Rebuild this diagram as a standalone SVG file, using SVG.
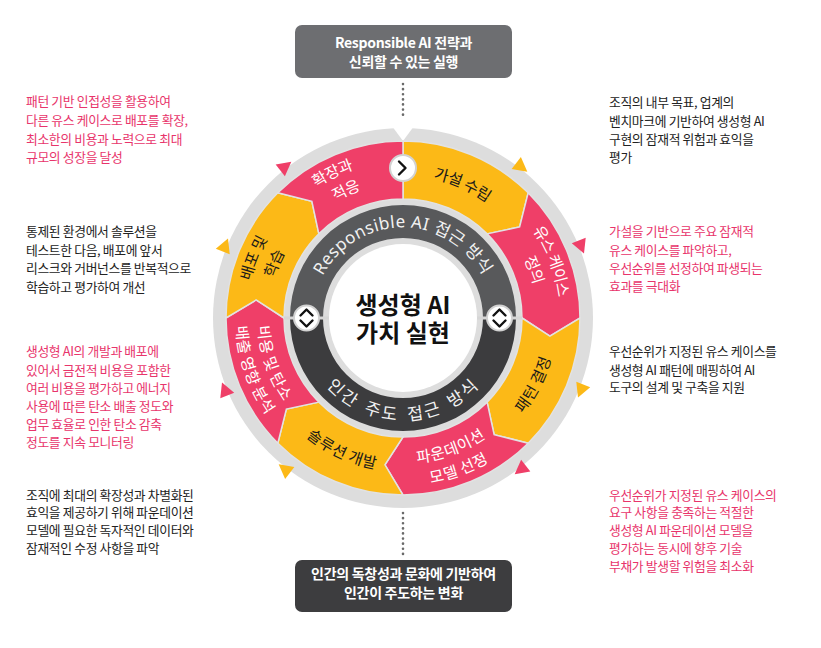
<svg xmlns="http://www.w3.org/2000/svg" width="821" height="648" viewBox="0 0 821 648">
<style>
.side{font-family:"Noto Sans CJK KR","Noto Sans",sans-serif;font-size:12.8px;letter-spacing:-0.35px}
.pk{fill:#e8346b}
.bk{fill:#222}
.box{font-family:"Noto Sans CJK KR","Noto Sans",sans-serif;font-size:14px;font-weight:bold;fill:#fff;text-anchor:middle;letter-spacing:-0.3px}
.seg{font-family:"Noto Sans CJK KR","Noto Sans",sans-serif;font-size:15.5px;text-anchor:middle}
.ring{font-family:"Noto Sans","Noto Sans CJK KR",sans-serif;font-size:17px;fill:#f2f2f2;text-anchor:middle}
.yl{fill:#fcb917;stroke:#e2e2e2;stroke-width:1.5}
.pn{fill:#ef3f68;stroke:#e2e2e2;stroke-width:1.5}
.dots{stroke:#6a6a6a;stroke-width:2.6;stroke-linecap:round;stroke-dasharray:0.1 5;fill:none}
.btn{fill:#fff;stroke:#d2d2d2;stroke-width:2}
.chev{fill:none;stroke:#111;stroke-width:2.4;stroke-linecap:round;stroke-linejoin:round}
</style>
<defs>
<path id="tri" d="M -6,-7.5 L 8,0 L -6,7.5 Z"/>
<path id="cw148" d="M403,466 A148,148 0 1 1 403,170 A148,148 0 1 1 403,466"/>
<path id="cw162" d="M403,480 A162,162 0 1 1 403,156 A162,162 0 1 1 403,480"/>
<path id="cw140" d="M403,458 A140,140 0 1 1 403,178 A140,140 0 1 1 403,458"/>
<path id="cw96" d="M403,414.5 A96.5,96.5 0 1 1 403,221.5 A96.5,96.5 0 1 1 403,414.5"/>
<path id="ccw148" d="M403,170 A148,148 0 1 0 403,466 A148,148 0 1 0 403,170"/>
<path id="ccw162" d="M403,156 A162,162 0 1 0 403,480 A162,162 0 1 0 403,156"/>
<path id="ccw140" d="M403,178 A140,140 0 1 0 403,458 A140,140 0 1 0 403,178"/>
<path id="ccw96" d="M403,221.5 A96.5,96.5 0 1 0 403,414.5 A96.5,96.5 0 1 0 403,221.5"/>
</defs>

<g id="connectors">
<line class="dots" x1="403" y1="84" x2="403" y2="127"/>
<line class="dots" x1="403" y1="513" x2="403" y2="556"/>
</g>

<g id="cycle-background">
<circle cx="403" cy="318" r="190" fill="#dddddd"/>
<polygon points="386,118 403,141 420,118" fill="#fff"/>
</g>

<g id="arrows">
<use href="#tri" fill="#fcb917" transform="translate(521,166.7) rotate(38)"/>
<use href="#tri" fill="#ef3f68" transform="translate(581,246) rotate(68)"/>
<use href="#tri" fill="#fcb917" transform="translate(581,390) rotate(112)"/>
<use href="#tri" fill="#ef3f68" transform="translate(521,469.3) rotate(142)"/>
<use href="#tri" fill="#fcb917" transform="translate(285,469.3) rotate(218)"/>
<use href="#tri" fill="#ef3f68" transform="translate(225,390) rotate(248)"/>
<use href="#tri" fill="#fcb917" transform="translate(225,246) rotate(292)"/>
<use href="#tri" fill="#ef3f68" transform="translate(285,166.7) rotate(322)"/>
</g>

<g id="seg-hypothesis">
<path class="yl" d="M403,141 A177,177 0 0 1 528.16,192.84 L519.62,226.88 L487.14,233.86 A119,119 0 0 0 403,199 Z"/>
<text class="seg" fill="#1a1a1a" dy="0.35em"><textPath href="#cw148" startOffset="56.7%">가설 수립</textPath></text>
</g>
<g id="seg-usecase">
<path class="pn" d="M528.16,192.84 A177,177 0 0 1 580,318 L549.89,336.04 L522,318 A119,119 0 0 0 487.14,233.86 L519.62,226.88 Z"/>
<text class="seg" fill="#fff" dy="0.35em"><textPath href="#cw162" startOffset="69.2%">유스 케이스</textPath></text>
<text class="seg" fill="#fff" dy="0.35em"><textPath href="#cw140" startOffset="69.4%">정의</textPath></text>
</g>
<g id="seg-pattern">
<path class="yl" d="M580,318 A177,177 0 0 1 528.16,443.16 L494.12,434.62 L487.14,402.14 A119,119 0 0 0 522,318 L549.89,336.04 Z"/>
<text class="seg" fill="#1a1a1a" dy="0.35em"><textPath href="#ccw148" startOffset="67.5%">패턴 결정</textPath></text>
</g>
<g id="seg-foundation">
<path class="pn" d="M528.16,443.16 A177,177 0 0 1 403,495 L384.96,464.89 L403,437 A119,119 0 0 0 487.14,402.14 L494.12,434.62 Z"/>
<text class="seg" fill="#fff" dy="0.35em"><textPath href="#ccw140" startOffset="55.6%">파운데이션</textPath></text>
<text class="seg" fill="#fff" dy="0.35em"><textPath href="#ccw162" startOffset="55.6%">모델 선정</textPath></text>
</g>
<g id="seg-solution">
<path class="yl" d="M403,495 A177,177 0 0 1 277.84,443.16 L286.38,409.12 L318.86,402.14 A119,119 0 0 0 403,437 L384.96,464.89 Z"/>
<text class="seg" fill="#1a1a1a" dy="0.35em"><textPath href="#ccw148" startOffset="43.1%">솔루션 개발</textPath></text>
</g>
<g id="seg-cost">
<path class="pn" d="M277.84,443.16 A177,177 0 0 1 226,318 L256.11,299.96 L284,318 A119,119 0 0 0 318.86,402.14 L286.38,409.12 Z"/>
<text class="seg" fill="#fff" dy="0.35em"><textPath href="#ccw140" startOffset="30.3%">비용 및 탄소</textPath></text>
<text class="seg" fill="#fff" dy="0.35em"><textPath href="#ccw162" startOffset="30.3%">배출 영향 분석</textPath></text>
</g>
<g id="seg-deploy">
<path class="yl" d="M226,318 A177,177 0 0 1 277.84,192.84 L311.88,201.38 L318.86,233.86 A119,119 0 0 0 284,318 L256.11,299.96 Z"/>
<text class="seg" fill="#1a1a1a" dy="0.35em"><textPath href="#cw162" startOffset="31.1%">배포 및</textPath></text>
<text class="seg" fill="#1a1a1a" dy="0.35em"><textPath href="#cw140" startOffset="31.4%">학습</textPath></text>
</g>
<g id="seg-scale">
<path class="pn" d="M277.84,192.84 A177,177 0 0 1 403,141 L403,199 A119,119 0 0 0 318.86,233.86 L311.88,201.38 Z"/>
<text class="seg" fill="#fff" dy="0.35em"><textPath href="#cw162" startOffset="42.8%">확장과</textPath></text>
<text class="seg" fill="#fff" dy="0.35em"><textPath href="#cw140" startOffset="43.3%">적응</textPath></text>
</g>

<g id="inner-rings">
<path d="M290,318 A113,113 0 0 1 516,318 L483,318 A80,80 0 0 0 323,318 Z" fill="#58595b"/>
<path d="M516,318 A113,113 0 0 1 290,318 L323,318 A80,80 0 0 0 483,318 Z" fill="#3c3c3e"/>
<line x1="284" y1="318" x2="329" y2="318" stroke="#d6d6d6" stroke-width="3"/>
<line x1="477" y1="318" x2="522" y2="318" stroke="#d6d6d6" stroke-width="3"/>
<text class="ring" dy="0.35em" letter-spacing="1"><textPath href="#cw96" startOffset="50%">Responsible AI 접근 방식</textPath></text>
<text class="ring" dy="0.35em" letter-spacing="1.5" word-spacing="3"><textPath href="#ccw96" startOffset="50%">인간 주도 접근 방식</textPath></text>
</g>

<g id="center">
<circle cx="403" cy="318" r="74" fill="#fff"/>
<text x="403" y="314" font-family="Noto Sans CJK KR, Noto Sans, sans-serif" font-size="24" font-weight="bold" fill="#111" text-anchor="middle">생성형 AI</text>
<text x="403" y="342" font-family="Noto Sans CJK KR, Noto Sans, sans-serif" font-size="24" font-weight="bold" fill="#111" text-anchor="middle">가치 실현</text>
</g>

<g id="btn-top">
<circle class="btn" cx="403" cy="168" r="13"/>
<path class="chev" d="M399,161.5 L405.5,168 L399,174.5"/>
</g>
<g id="btn-left">
<circle class="btn" cx="306.5" cy="318" r="12.5"/>
<path class="chev" d="M300.5,315.5 L306.5,309.5 L312.5,315.5 M300.5,320.5 L306.5,326.5 L312.5,320.5"/>
</g>
<g id="btn-right">
<circle class="btn" cx="499.5" cy="318" r="12.5"/>
<path class="chev" d="M493.5,315.5 L499.5,309.5 L505.5,315.5 M493.5,320.5 L499.5,326.5 L505.5,320.5"/>
</g>

<g id="box-top">
<rect x="295" y="25" width="217" height="53" rx="7" fill="#6d6e71"/>
<text class="box" x="403.5" y="48">Responsible AI 전략과</text>
<text class="box" x="403.5" y="67">신뢰할 수 있는 실행</text>
</g>
<g id="box-bottom">
<rect x="295" y="560" width="217" height="52" rx="7" fill="#3d3d3f"/>
<text class="box" x="403.5" y="579" letter-spacing="-0.9">인간의 독창성과 문화에 기반하여</text>
<text class="box" x="403.5" y="598">인간이 주도하는 변화</text>
</g>

<g id="note-scale" class="side pk">
<text x="26" y="106">패턴 기반 인접성을 활용하여</text>
<text x="26" y="125">다른 유스 케이스로 배포를 확장,</text>
<text x="26" y="144">최소한의 비용과 노력으로 최대</text>
<text x="26" y="162">규모의 성장을 달성</text>
</g>
<g id="note-deploy" class="side bk">
<text x="26" y="236">통제된 환경에서 솔루션을</text>
<text x="26" y="254.5">테스트한 다음, 배포에 앞서</text>
<text x="26" y="273">리스크와 거버넌스를 반복적으로</text>
<text x="26" y="291.5">학습하고 평가하여 개선</text>
</g>
<g id="note-cost" class="side pk">
<text x="26" y="356">생성형 AI의 개발과 배포에</text>
<text x="26" y="374.5">있어서 금전적 비용을 포함한</text>
<text x="26" y="393">여러 비용을 평가하고 에너지</text>
<text x="26" y="411">사용에 따른 탄소 배출 정도와</text>
<text x="26" y="429">업무 효율로 인한 탄소 감축</text>
<text x="26" y="446.5">정도를 지속 모니터링</text>
</g>
<g id="note-solution" class="side bk">
<text x="26" y="499.5">조직에 최대의 확장성과 차별화된</text>
<text x="26" y="517">효익을 제공하기 위해 파운데이션</text>
<text x="26" y="535">모델에 필요한 독자적인 데이터와</text>
<text x="26" y="553">잠재적인 수정 사항을 파악</text>
</g>
<g id="note-hypothesis" class="side bk">
<text x="609" y="107">조직의 내부 목표, 업계의</text>
<text x="609" y="125.5">벤치마크에 기반하여 생성형 AI</text>
<text x="609" y="144">구현의 잠재적 위험과 효익을</text>
<text x="609" y="162">평가</text>
</g>
<g id="note-usecase" class="side pk">
<text x="609" y="236">가설을 기반으로 주요 잠재적</text>
<text x="609" y="254.5">유스 케이스를 파악하고,</text>
<text x="609" y="273">우선순위를 선정하여 파생되는</text>
<text x="609" y="290.5">효과를 극대화</text>
</g>
<g id="note-pattern" class="side bk">
<text x="609" y="356">우선순위가 지정된 유스 케이스를</text>
<text x="609" y="374.5">생성형 AI 패턴에 매핑하여 AI</text>
<text x="609" y="392">도구의 설계 및 구축을 지원</text>
</g>
<g id="note-foundation" class="side pk">
<text x="609" y="499.5">우선순위가 지정된 유스 케이스의</text>
<text x="609" y="517">요구 사항을 충족하는 적절한</text>
<text x="609" y="535">생성형 AI 파운데이션 모델을</text>
<text x="609" y="553">평가하는 동시에 향후 기술</text>
<text x="609" y="571">부채가 발생할 위험을 최소화</text>
</g>
</svg>
